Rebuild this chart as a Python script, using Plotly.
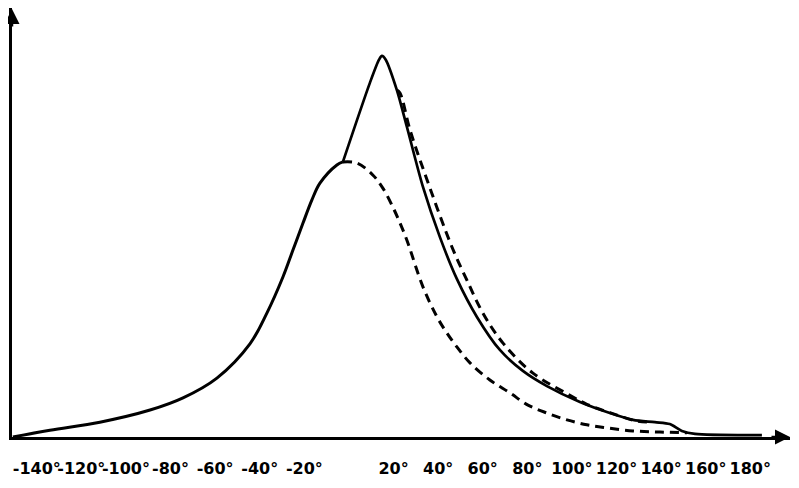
import plotly.graph_objects as go

# Angles in degrees, intensity in arbitrary units (peak ~100)
solid_left_x = [-150.7, -134.1, -111.7, -89.2, -74.4, -59.2, -44.4, -36.8, -29.6, -25.1, -20.6, -16.6, -13.0, -5.4, -2.7]
solid_left_y = [0.0, 1.8, 3.9, 7.1, 10.3, 15.5, 24.5, 32.6, 42.1, 49.2, 56.3, 62.4, 66.8, 71.6, 72.4]

solid_right_x = [-2.7, 9.4, 13.5, 14.8, 16.5, 21.5, 26.0, 33.2, 40.8, 48.4, 57.4, 67.7, 78.0, 88.8, 103.6, 117.0, 127.4, 137.2, 143.9, 149.3, 155.2, 185.2]
solid_right_y = [72.4, 93.2, 99.3, 100.3, 99.3, 91.3, 81.6, 65.8, 52.6, 41.6, 31.6, 22.9, 17.4, 13.4, 9.2, 6.3, 4.5, 3.9, 3.4, 1.6, 0.8, 0.5]

dash_low_x = [-2.7, 3.6, 10.8, 15.2, 19.7, 22.9, 26.0, 33.2, 39.5, 43.9, 48.4, 54.3, 63.2, 72.2, 80.3, 88.8, 97.8, 106.7, 115.7, 127.4, 139.5, 151.6]
dash_low_y = [72.4, 72.1, 68.9, 65.5, 60.5, 56.3, 51.8, 39.5, 31.6, 27.4, 23.7, 19.5, 15.0, 11.6, 8.4, 6.3, 4.5, 3.2, 2.4, 1.6, 1.3, 1.1]

dash_up_x = [21.5, 22.9, 27.4, 34.1, 46.2, 52.9, 60.1, 69.1, 82.5, 99.1, 106.7, 117.0, 129.1, 135.9]
dash_up_y = [91.3, 90.5, 80.8, 69.2, 50.0, 41.3, 32.6, 24.7, 16.8, 11.0, 8.6, 6.4, 4.2, 3.9]

tick_vals = [-140, -120, -100, -80, -60, -40, -20, 20, 40, 60, 80, 100, 120, 140, 160, 180]
tick_text = [f"{v}°" for v in tick_vals]

fig = go.Figure()
common = dict(mode="lines", hoverinfo="skip", showlegend=False)
fig.add_trace(go.Scatter(x=solid_left_x, y=solid_left_y,
                         line=dict(color="black", width=3, shape="spline", smoothing=1.0), **common))
fig.add_trace(go.Scatter(x=solid_right_x, y=solid_right_y,
                         line=dict(color="black", width=2.7, shape="spline", smoothing=0.8), **common))
fig.add_trace(go.Scatter(x=dash_low_x, y=dash_low_y,
                         line=dict(color="black", width=3, dash="9px,6px", shape="spline", smoothing=1.0), **common))
fig.add_trace(go.Scatter(x=dash_up_x, y=dash_up_y,
                         line=dict(color="black", width=3, dash="9px,6px", shape="spline", smoothing=1.0), **common))

fig.update_layout(
    width=791, height=480,
    margin=dict(l=4, r=9, t=0, b=51),
    paper_bgcolor="white", plot_bgcolor="white",
    xaxis=dict(range=[-151.1, 197.8], showgrid=False, zeroline=False,
               showline=True, linecolor="black", linewidth=3,
               tickvals=tick_vals, ticktext=tick_text, ticks="",
               tickangle=0, automargin=False,
               ticklabelstandoff=15,
               tickfont=dict(family="DejaVu Sans", size=16, color="black", weight="bold")),
    yaxis=dict(range=[0, 112.9], showgrid=False, zeroline=False,
               showline=True, linecolor="black", linewidth=3,
               showticklabels=False, ticks="", automargin=False),
)

# axis arrowheads
fig.add_annotation(x=1.0, y=0, xref="paper", yref="paper", ax=-20, ay=0,
                   showarrow=True, arrowhead=2, arrowsize=1.2, arrowwidth=2.5, arrowcolor="black", text="")
fig.add_annotation(x=0, y=1.0, xref="paper", yref="paper", ax=0, ay=20,
                   showarrow=True, arrowhead=2, arrowsize=1.2, arrowwidth=2.5, arrowcolor="black", text="")

fig.write_html("out.html")
